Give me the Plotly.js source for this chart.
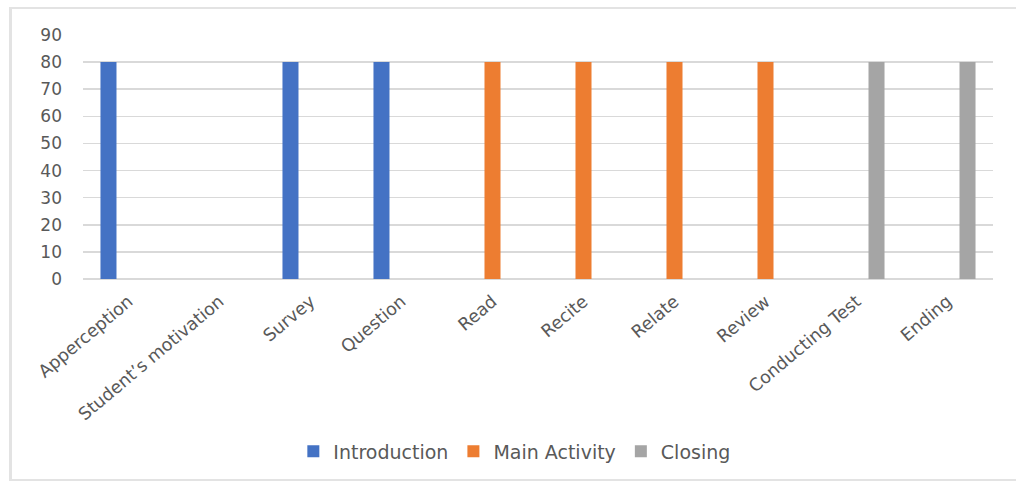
<!DOCTYPE html>
<html>
<head>
<meta charset="utf-8">
<script src="https://cdn.plot.ly/plotly-3.0.1.min.js"></script>
<style>
  html, body { margin: 0; padding: 0; background: #fff; overflow: hidden; }
  #wrap { position: relative; width: 1016px; height: 481px; overflow: hidden; }
  #frame { position: absolute; left: 9px; top: 7px; width: 1040px; height: 474px;
           border-left: 3px solid #e3e3e3; border-top: 2px solid #e3e3e3; border-bottom: 2px solid #e3e3e3;
           border-right: none; box-sizing: border-box; pointer-events: none; }
  #chart { position: absolute; left: 0; top: 0; width: 1016px; height: 481px; }
</style>
</head>
<body>
<div id="wrap">
  <div id="chart"></div>
  <div id="frame"></div>
</div>
<script>
const categories = ["Apperception", "Student’s motivation", "Survey", "Question", "Read",
                    "Recite", "Relate", "Review", "Conducting Test", "Ending"];
const introduction = [80, 0, 80, 80, null, null, null, null, null, null];
const mainActivity = [null, null, null, null, 80, 80, 80, 80, null, null];
const closing      = [null, null, null, null, null, null, null, null, 80, 80];
const yTicks = [0, 10, 20, 30, 40, 50, 60, 70, 80, 90];

const font = "DejaVu Sans, Verdana, sans-serif";
const textColor = "#595959";

const traces = [
  { type: "bar", name: "Introduction", x: categories, y: introduction, marker: { color: "#4472C4" } },
  { type: "bar", name: "Main Activity", x: categories, y: mainActivity, marker: { color: "#ED7D31" } },
  { type: "bar", name: "Closing", x: categories, y: closing, marker: { color: "#A5A5A5" } }
];

const layout = {
  width: 1016, height: 481,
  margin: { l: 83, r: 23, t: 35, b: 201, pad: 0 },
  paper_bgcolor: "#ffffff", plot_bgcolor: "#ffffff",
  barmode: "group", bargap: 0.34, bargroupgap: 0.2,
  font: { family: font, color: textColor, size: 15 },
  showlegend: true,
  legend: { orientation: "h", x: 0.474, xanchor: "center", y: -0.70, yanchor: "middle",
            font: { family: font, size: 19, color: textColor }, itemwidth: 30, traceorder: "normal" },
  xaxis: { type: "category", tickangle: -40, tickfont: { family: font, size: 17.5, color: textColor },
           showgrid: false, showline: false, ticks: "", zeroline: false, automargin: false,
           ticklabelstandoff: 8 },
  yaxis: { range: [0, 90], tickvals: yTicks, ticktext: yTicks.map(String),
           tickfont: { family: font, size: 17, color: textColor },
           showgrid: true, gridcolor: "#d9d9d9", gridwidth: 1.5, zeroline: true, zerolinecolor: "#d9d9d9",
           zerolinewidth: 1.5, showline: false, ticks: "", ticklabelstandoff: 20, automargin: false }
};

Plotly.newPlot("chart", traces, layout, { displayModeBar: false, staticPlot: true });
</script>
</body>
</html>
